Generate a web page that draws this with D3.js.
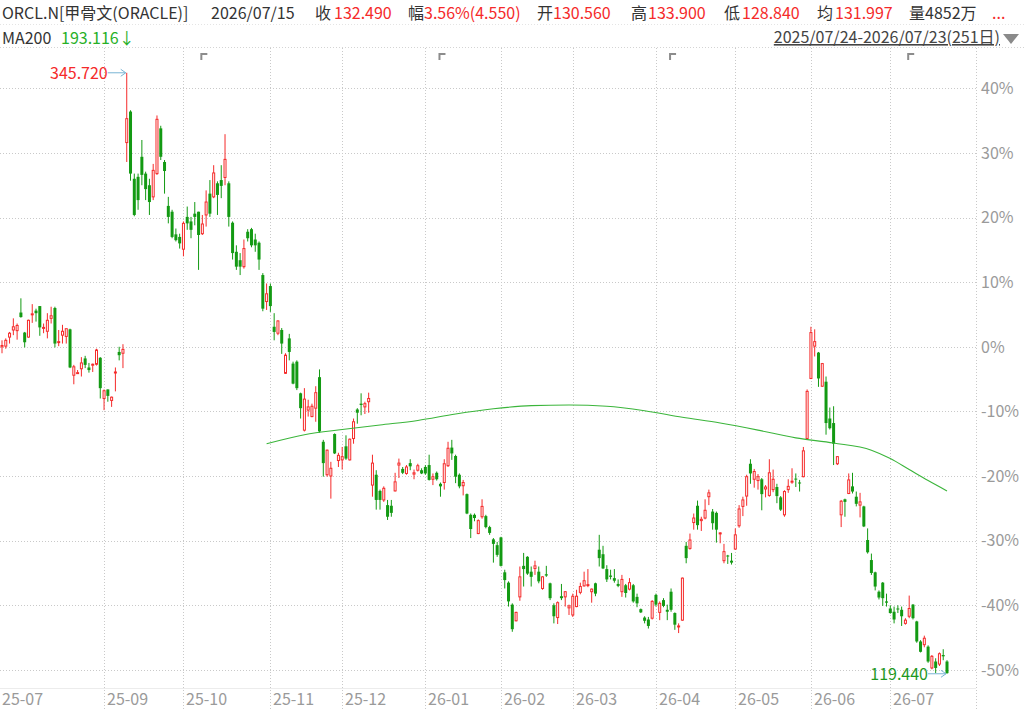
<!DOCTYPE html>
<html>
<head>
<meta charset="utf-8">
<script src="https://cdn.jsdelivr.net/npm/d3@7"></script>
<style>
body { margin: 0; background: #fff; }
svg { display: block; }
text { font-family: "Microsoft YaHei", "Noto Sans CJK SC", "Noto Sans", sans-serif; }
</style>
</head>
<body>
<svg id="chart" width="1024" height="711"></svg>
<script>
// daily candles, % change vs. first close (2025/07/24 .. 2026/07/23, 251 days)
const openPct = [
  0, 0.1, 1.5, 2.6, 2.5, 5.3, 2.2, 1.5, 5.0, 5.6,
  6.3, 2.9, 2.4, 4.4, 6.0, 0.7, 1.8, 1.6, 2.7, -4.4,
  -4.1, -3.4, -1.8, -3.2, -2.8, -2.7, -1.7, -8.0, -6.6, -8.3,
  -4.0, -0.8, -1.0, 31.6, 36.4, 26.0, 26.3, 29.4, 26.8, 25.0,
  23.2, 26.8, 33.8, 28.6, 21.8, 20.9, 17.4, 17.0, 15.1, 20.1,
  19.4, 20.6, 20.9, 17.5, 20.4, 23.7, 23.2, 25.3, 25.8, 26.2,
  25.3, 19.2, 14.7, 13.4, 12.4, 17.8, 18.2, 16.6, 16.1, 11.1,
  7.0, 9.4, 3.1, 2.1, 2.6, -4.1, 1.3, -2.6, -2.3, -7.2,
  -12.9, -9.8, -10.8, -9.5, -4.7, -14.7, -19.8, -20.0, -13.5, -17.6,
  -17.5, -15.4, -17.5, -14.2, -9.7, -8.8, -9.3, -8.5, -21.4, -19.8,
  -22.3, -23.7, -24.5, -24.6, -22.3, -18.3, -18.9, -19.6, -18.0, -19.7,
  -19.1, -19.1, -18.6, -18.3, -20.5, -19.5, -21.2, -21.0, -18.4, -15.6,
  -16.9, -19.8, -21.5, -22.8, -26.0, -26.0, -28.9, -26.3, -26.2, -27.9,
  -29.8, -30.7, -29.5, -34.9, -36.5, -39.9, -42.4, -38.7, -33.9, -32.5,
  -34.8, -34.3, -34.8, -37.4, -35.2, -36.6, -40.0, -41.9, -38.6, -38.7,
  -40.4, -41.5, -40.2, -38.0, -37.0, -36.9, -37.9, -36.6, -31.4, -32.1,
  -34.4, -35.4, -35.8, -36.7, -37.9, -36.9, -37.5, -36.9, -38.7, -40.6,
  -41.9, -42.2, -42.0, -38.4, -41.1, -39.2, -40.7, -37.9, -41.2, -43.3,
  -42.3, -30.8, -31.2, -27.2, -24.6, -26.9, -26.5, -23.2, -25.5, -25.7,
  -28.9, -33.1, -32.3, -33.1, -31.3, -27.7, -24.7, -23.1, -18.1, -20.5,
  -20.7, -20.5, -22.0, -23.0, -22.1, -21.7, -23.3, -26.0, -22.1, -20.9,
  -20.4, -21.0, -20.1, -14.2, -4.9, 0.1, -0.9, -6.1, -5.4, -11.1,
  -11.8, -18.1, -26.0, -23.6, -22.7, -21.6, -23.2, -24.5, -24.7, -29.9,
  -33.0, -34.9, -37.9, -36.5, -39.4, -40.5, -41.0, -40.5, -40.7, -42.8,
  -41.7, -39.9, -42.5, -45.6, -46.1, -46.4, -49.7, -48.7, -49.1, -47.7, -48.7
];
const highPct = [
  1.0, 1.3, 2.3, 4.4, 3.6, 7.5, 2.3, 4.2, 6.6, 5.9,
  6.3, 3.6, 5.2, 6.2, 6.2, 2.6, 3.4, 2.8, 2.8, -2.8,
  -3.6, -1.6, -1.4, -2.5, -2.6, -0.3, -1.6, -6.6, -6.6, -7.7,
  -3.2, 0.0, 0.4, 42.4, 36.6, 26.8, 26.8, 32.0, 27.1, 26.0,
  28.3, 35.8, 34.2, 28.9, 23.2, 21.2, 18.3, 17.5, 19.4, 21.7,
  20.1, 22.4, 20.9, 20.4, 24.2, 25.8, 28.1, 25.6, 28.1, 32.9,
  25.6, 19.4, 15.7, 14.5, 16.6, 18.2, 18.4, 17.5, 16.3, 11.4,
  9.8, 9.8, 5.2, 4.1, 2.9, -1.0, 2.0, -2.3, -2.1, -7.1,
  -6.4, -8.2, -8.8, -6.1, -3.5, -14.4, -15.9, -17.8, -13.4, -16.4,
  -15.5, -13.7, -14.2, -11.1, -9.5, -7.2, -8.5, -7.1, -16.7, -19.1,
  -22.1, -21.6, -23.7, -23.7, -19.5, -17.3, -18.6, -18.3, -17.4, -19.0,
  -18.1, -18.8, -18.3, -16.7, -19.6, -19.3, -21.0, -17.4, -14.7, -14.4,
  -16.7, -19.6, -20.6, -22.7, -25.8, -25.8, -26.7, -23.6, -26.0, -27.7,
  -29.6, -30.2, -29.4, -34.5, -36.3, -39.7, -41.0, -34.0, -31.9, -32.4,
  -34.0, -33.1, -34.0, -35.5, -33.9, -36.5, -39.7, -39.4, -36.7, -37.8,
  -39.9, -38.2, -37.6, -36.5, -34.8, -34.4, -37.4, -36.5, -29.1, -30.8,
  -33.8, -34.5, -34.4, -36.0, -35.3, -36.7, -35.8, -36.7, -38.2, -40.5,
  -41.7, -41.8, -39.2, -38.2, -39.4, -38.9, -39.9, -37.4, -41.1, -42.8,
  -35.7, -30.2, -28.9, -25.8, -23.8, -26.3, -23.6, -22.1, -25.1, -25.5,
  -28.7, -30.5, -32.2, -31.9, -28.1, -24.5, -23.2, -19.8, -17.4, -18.9,
  -19.7, -20.3, -21.4, -17.4, -19.0, -21.2, -23.1, -22.2, -20.5, -18.8,
  -19.6, -20.6, -15.5, -6.6, 3.1, 2.7, -0.8, -2.5, -4.6, -9.4,
  -9.2, -16.9, -23.7, -23.5, -19.6, -19.5, -22.4, -22.6, -24.6, -28.1,
  -32.0, -34.8, -37.7, -36.4, -38.2, -40.0, -40.2, -40.0, -40.2, -42.0,
  -38.5, -39.8, -42.4, -45.4, -44.7, -46.2, -47.7, -48.2, -47.3, -46.8, -48.5
];
const lowPct = [
  -1.0, -0.3, 0.5, 1.8, 1.1, 4.5, -0.1, 1.4, 3.7, 3.9,
  1.7, 2.1, 1.3, 3.6, -0.1, 0.1, 0.5, 0.5, -3.3, -5.8,
  -4.2, -4.6, -3.3, -4.0, -3.9, -2.9, -8.0, -9.8, -8.5, -9.3,
  -6.9, -2.1, -3.3, 28.6, 25.7, 20.2, 21.2, 25.0, 22.7, 20.4,
  22.7, 26.6, 28.9, 23.7, 19.1, 16.8, 16.3, 15.2, 14.0, 18.1,
  16.8, 18.8, 11.9, 17.3, 18.6, 20.1, 23.0, 20.4, 23.0, 25.0,
  18.6, 13.5, 11.9, 11.1, 12.1, 16.3, 15.4, 14.7, 11.9, 5.5,
  5.7, 5.4, 1.0, 1.8, -1.1, -4.2, -2.1, -5.8, -6.7, -11.1,
  -13.1, -10.8, -10.9, -11.6, -13.3, -20.1, -20.1, -23.5, -16.6, -18.6,
  -19.0, -17.5, -17.6, -15.0, -11.9, -10.6, -10.4, -10.2, -23.2, -25.2,
  -25.2, -24.0, -26.8, -26.3, -22.4, -20.3, -19.7, -19.8, -19.1, -20.5,
  -19.3, -19.7, -19.8, -20.7, -21.4, -20.7, -23.2, -22.1, -18.6, -17.5,
  -21.1, -21.9, -23.0, -25.9, -29.6, -27.0, -29.0, -26.6, -28.1, -29.1,
  -33.4, -32.5, -34.0, -37.4, -40.2, -44.1, -42.5, -39.3, -37.1, -35.3,
  -37.1, -35.3, -36.6, -37.6, -35.6, -39.2, -42.8, -42.9, -39.2, -40.2,
  -41.5, -41.8, -40.3, -38.3, -37.1, -37.2, -39.6, -38.6, -34.0, -34.4,
  -36.4, -36.0, -36.5, -37.2, -38.7, -38.8, -37.7, -39.6, -40.3, -41.2,
  -42.8, -43.6, -42.2, -40.2, -42.3, -40.3, -42.3, -41.0, -43.8, -44.3,
  -42.4, -33.5, -31.4, -28.3, -28.3, -28.5, -26.7, -24.5, -28.3, -30.3,
  -30.4, -33.5, -33.6, -33.7, -31.4, -28.0, -26.2, -24.6, -21.2, -21.8,
  -22.1, -25.3, -23.3, -23.2, -22.5, -24.2, -25.4, -26.3, -22.6, -21.2,
  -21.7, -22.4, -20.2, -14.4, -5.0, -1.5, -6.2, -6.2, -13.6, -12.8,
  -18.3, -18.3, -27.9, -26.3, -22.8, -22.7, -24.7, -26.4, -27.9, -32.0,
  -35.3, -37.7, -39.1, -40.1, -40.2, -41.3, -42.8, -41.2, -43.2, -43.0,
  -42.0, -42.2, -45.8, -47.3, -46.5, -48.9, -49.9, -50.5, -49.4, -48.5, -50.6
];
const closePct = [
  0.2, 1.0, 2.1, 3.1, 3.3, 4.6, 0.7, 4.1, 5.1, 5.2,
  3.0, 3.0, 4.1, 4.8, 0.5, 0.8, 2.4, 2.8, -3.2, -3.1,
  -4.0, -2.5, -2.8, -3.6, -2.7, -0.5, -6.4, -6.8, -7.6, -7.8,
  -3.9, -1.3, -0.4, 35.3, 26.8, 20.4, 22.7, 26.6, 24.4, 22.4,
  27.3, 35.2, 29.4, 27.2, 20.1, 17.0, 16.5, 16.0, 19.1, 19.1,
  18.1, 20.1, 17.3, 19.0, 22.4, 20.6, 26.9, 23.5, 24.9, 29.0,
  20.1, 14.5, 12.4, 12.4, 15.2, 16.8, 15.7, 15.7, 13.5, 5.9,
  8.2, 6.3, 2.3, 4.0, 0.5, -1.3, -0.8, -5.7, -6.4, -9.5,
  -8.1, -9.3, -9.2, -7.1, -13.1, -18.0, -16.0, -18.8, -16.5, -16.8,
  -17.0, -17.3, -14.3, -11.6, -10.2, -9.0, -8.8, -8.0, -18.0, -23.7,
  -23.7, -21.9, -26.3, -25.7, -20.9, -18.0, -19.5, -18.6, -18.5, -19.5,
  -18.4, -19.6, -19.6, -20.6, -20.1, -20.5, -21.6, -18.1, -15.7, -16.5,
  -20.1, -21.6, -21.0, -25.8, -28.2, -26.5, -26.9, -24.7, -27.9, -28.8,
  -30.5, -32.2, -33.9, -36.1, -39.4, -43.7, -41.1, -35.6, -34.4, -35.1,
  -35.6, -33.9, -36.3, -35.6, -35.4, -38.9, -41.7, -39.6, -38.9, -37.9,
  -40.1, -38.6, -38.6, -37.1, -36.2, -36.8, -37.5, -38.2, -32.7, -34.3,
  -36.0, -35.6, -36.2, -37.0, -36.0, -38.1, -36.5, -39.4, -39.7, -41.1,
  -42.4, -43.2, -39.4, -39.9, -39.7, -40.1, -41.0, -40.7, -43.0, -43.2,
  -35.8, -32.7, -29.9, -26.5, -27.6, -26.7, -25.3, -22.6, -27.3, -28.3,
  -28.8, -31.7, -32.4, -33.4, -29.1, -25.1, -23.7, -20.1, -19.6, -19.3,
  -20.1, -22.8, -21.7, -19.5, -20.5, -23.1, -25.2, -22.4, -21.6, -20.8,
  -20.5, -21.1, -16.1, -6.9, 2.2, 0.8, -4.9, -2.6, -11.8, -12.6,
  -15.0, -17.0, -23.9, -24.0, -20.6, -22.4, -24.3, -24.0, -27.8, -31.8,
  -35.0, -37.1, -38.8, -38.9, -39.6, -41.2, -42.2, -40.6, -41.7, -42.3,
  -40.5, -42.0, -45.6, -47.2, -45.1, -48.7, -47.9, -49.7, -47.5, -47.9, -50.5
];

// MA200 (candle index -> %)
const maIndex = [70, 80, 90, 100, 110, 120, 130, 140, 150, 160, 170, 180, 190, 200, 210, 220, 230, 235, 240, 245, 250];
const maPct = [-15.0, -13.6, -12.8, -12.1, -11.4, -10.4, -9.6, -9.1, -9.0, -9.2, -9.9, -10.9, -11.8, -12.9, -14.1, -14.9, -16.0, -17.3, -19.0, -20.7, -22.3];

const monthLabels = ['25-07', '25-09', '25-10', '25-11', '25-12', '26-01', '26-02', '26-03', '26-04', '26-05', '26-06', '26-07'];
const monthIndex = [0, 27, 48, 71, 90, 112, 132, 151, 173, 194, 214, 235];
const pctTicks = [40, 30, 20, 10, 0, -10, -20, -30, -40, -50];
const eventIndex = [53, 116, 177, 240];

const quoteNames = ['收', '幅', '开', '高', '低', '均'];
const quoteValues = ['132.490', '3.56%(4.550)', '130.560', '133.900', '128.840', '131.997'];
const maValue = '193.116↓';
const highMark = '345.720';
const lowMark = '119.440';

const RED = '#f52a2a', GREEN = '#139a13', GRID = '#c9c9c9', AXIS_TXT = '#9a9a9a';
const FS = 16;

const svg = d3.select('#chart');
const x = d3.scaleLinear().domain([0, 250]).range([2, 947]);
const y = d3.scaleLinear().domain([-50, 40]).range([669.9, 88.3]);
const plotRight = 976;

// header
const head = svg.append('g').attr('font-size', FS);
head.append('text').attr('x', 2).attr('y', 19).attr('fill', '#333').text('ORCL.N[甲骨文(ORACLE)]');
head.append('text').attr('x', 211).attr('y', 19).attr('fill', '#333').text('2026/07/15');
const nameX = [315, 408, 537, 631, 724, 817];
const valX = [334, 424, 553, 648, 742, 835];
quoteNames.forEach((n, k) => {
    head.append('text').attr('x', nameX[k]).attr('y', 19).attr('fill', '#333').text(n);
    head.append('text').attr('x', valX[k]).attr('y', 19).attr('fill', RED).text(quoteValues[k]);
});
head.append('text').attr('x', 909).attr('y', 19).attr('fill', '#333').text('量4852万');
head.append('text').attr('x', 992).attr('y', 19).attr('fill', RED).text('...');

head.append('text').attr('x', 2).attr('y', 44).attr('fill', '#333').text('MA200');
head.append('text').attr('x', 61).attr('y', 44).attr('fill', '#27b027').text(maValue);
head.append('text').attr('x', 1000).attr('y', 43).attr('text-anchor', 'end')
    .attr('fill', '#444').attr('text-decoration', 'underline')
    .text('2025/07/24-2026/07/23(251日)');
head.append('path').attr('d', 'M1003,34 L1019,34 L1011,44 Z').attr('fill', '#8a8a8a');

svg.append('line').attr('x1', 0).attr('x2', 1024).attr('y1', 24.5).attr('y2', 24.5)
    .attr('stroke', '#e4e4e4').attr('stroke-dasharray', '1,2');
svg.append('line').attr('x1', 0).attr('x2', 1024).attr('y1', 47.5).attr('y2', 47.5)
    .attr('stroke', '#d4d4d4').attr('stroke-dasharray', '1,2');

// grid
const grid = svg.append('g').attr('stroke', GRID).attr('stroke-dasharray', '1,2');
grid.selectAll('.h').data(pctTicks).join('line')
    .attr('x1', 0).attr('x2', plotRight)
    .attr('y1', d => Math.round(y(d)) + 0.5).attr('y2', d => Math.round(y(d)) + 0.5);
grid.selectAll('.v').data(monthIndex.slice(1)).join('line')
    .attr('x1', d => Math.round(x(d)) + 0.5).attr('x2', d => Math.round(x(d)) + 0.5)
    .attr('y1', 48).attr('y2', 711);
grid.append('line').attr('x1', plotRight + 0.5).attr('x2', plotRight + 0.5).attr('y1', 48).attr('y2', 711);
svg.append('line').attr('x1', 0).attr('x2', plotRight).attr('y1', 688.5).attr('y2', 688.5)
    .attr('stroke', '#ececec');

// right % axis
svg.append('g').attr('font-size', FS).attr('fill', AXIS_TXT)
    .selectAll('text').data(pctTicks).join('text')
    .attr('x', 981).attr('y', d => y(d)).attr('dy', '0.36em')
    .text(d => d + '%');

// month axis
svg.append('g').attr('font-size', FS).attr('fill', AXIS_TXT)
    .selectAll('text').data(monthLabels).join('text')
    .attr('x', (d, k) => k === 0 ? 2 : Math.round(x(monthIndex[k])) + 3)
    .attr('y', 705)
    .text(d => d);

// event flags
svg.append('g').selectAll('path').data(eventIndex).join('path')
    .attr('d', d => { const x0 = x(d) - 1; return `M${x0},60 V54 H${x0 + 6}`; })
    .attr('fill', 'none').attr('stroke', '#8c8c8c').attr('stroke-width', 2);

// candles
const idx = d3.range(openPct.length);
const cg = svg.append('g');
cg.selectAll('line').data(idx).join('line')
    .attr('x1', i => x(i)).attr('x2', i => x(i))
    .attr('y1', i => y(highPct[i])).attr('y2', i => y(lowPct[i]))
    .attr('stroke', i => closePct[i] >= openPct[i] ? RED : GREEN)
    .attr('stroke-width', 1);
cg.selectAll('rect').data(idx).join('rect')
    .each(function (i) {
        const up = closePct[i] >= openPct[i];
        const top = y(Math.max(openPct[i], closePct[i]));
        const h = Math.max(1, y(Math.min(openPct[i], closePct[i])) - top);
        const r = d3.select(this);
        if (up) {
            r.attr('x', x(i) - 1).attr('width', 2).attr('y', top).attr('height', h)
                .attr('fill', '#fff').attr('stroke', RED).attr('stroke-width', 1);
        } else {
            r.attr('x', x(i) - 1.5).attr('width', 3).attr('y', top).attr('height', h)
                .attr('fill', GREEN);
        }
    });

// MA200
svg.append('path')
    .datum(maIndex.map((d, k) => [d, maPct[k]]))
    .attr('d', d3.line().x(d => x(d[0])).y(d => y(d[1])).curve(d3.curveMonotoneX))
    .attr('fill', 'none').attr('stroke', '#3bb53b').attr('stroke-width', 1.1);

// high / low markers
const arrowCol = '#78b4d4';
function marker(i, val, label, col) {
    const px = x(i) - 1, py = y(val), sx = px - 18;
    svg.append('line').attr('x1', sx).attr('x2', px).attr('y1', py).attr('y2', py)
        .attr('stroke', arrowCol);
    svg.append('path').attr('d', `M${px - 5},${py - 3.5} L${px},${py} L${px - 5},${py + 3.5}`)
        .attr('fill', 'none').attr('stroke', arrowCol);
    svg.append('text').attr('x', sx).attr('y', py).attr('dy', '0.36em')
        .attr('text-anchor', 'end').attr('font-size', FS).attr('fill', col).text(label);
}
marker(d3.maxIndex(highPct), d3.max(highPct), highMark, RED);
marker(d3.minIndex(lowPct), d3.min(lowPct), lowMark, '#1f981f');
</script>
</body>
</html>
